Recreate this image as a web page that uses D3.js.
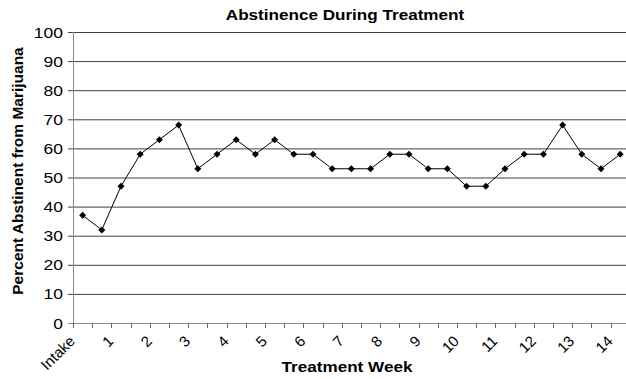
<!DOCTYPE html>
<html><head><meta charset="utf-8">
<script src="https://cdn.jsdelivr.net/npm/d3@7"></script>
<style>body{margin:0;background:#fff}svg{display:block;font-family:"Liberation Sans",Arial,sans-serif}</style>
</head><body>
<svg id="c" width="626" height="379"></svg>
<script>
const sessions = ["Intake","1a","1b","2a","2b","3a","3b","4a","4b","5a","5b","6a","6b","7a","7b","8a","8b","9a","9b","10a","10b","11a","11b","12a","12b","13a","13b","14a","14b"];
const abstinence = [37,32,47,58,63,68,53,58,63,58,63,58,58,53,53,53,58,58,53,53,47,47,53,58,58,68,58,53,58];
const weekLabels = ["Intake","1","2","3","4","5","6","7","8","9","10","11","12","13","14"];
const yTicks = [0,10,20,30,40,50,60,70,80,90,100];

(function(){
const svg = d3.select("#c");
const mLeft = 73, mTop = 32, mBottom = 323, step = 19.2;
const x = d3.scaleBand().domain(sessions).range([mLeft, mLeft + sessions.length*step]).padding(0);
const y = d3.scaleLinear().domain([0,100]).range([mBottom, mTop]);
const sx = 1.25;

// gridlines + y ticks
svg.append("g").selectAll("line").data(yTicks.filter(d=>d>0)).join("line")
  .attr("x1", mLeft-5).attr("x2", 626).attr("y1", d=>y(d)+0.5).attr("y2", d=>y(d)+0.5)
  .attr("stroke", "#404040").attr("stroke-width", 1);
svg.append("line").attr("x1", mLeft-5).attr("x2", mLeft).attr("y1", y(0)+0.5).attr("y2", y(0)+0.5).attr("stroke","#888");
svg.append("g").selectAll("text").data(yTicks).join("text")
  .attr("transform", d=>`translate(63,${y(d)+5.5}) scale(${sx},1)`)
  .attr("text-anchor","end").attr("font-size", 14).attr("fill","#000").text(d=>d);

// axes lines
svg.append("line").attr("x1", mLeft+0.5).attr("x2", mLeft+0.5).attr("y1", mTop).attr("y2", mBottom+5).attr("stroke","#8c8c8c");
svg.append("line").attr("x1", mLeft).attr("x2", 626).attr("y1", mBottom+0.5).attr("y2", mBottom+0.5).attr("stroke","#8c8c8c");
// x tick marks at band boundaries
const bounds = sessions.map(s=>x(s)).concat([x(sessions[sessions.length-1])+x.bandwidth()]);
svg.append("g").selectAll("line").data(bounds).join("line")
  .attr("x1", d=>Math.round(d)+0.5).attr("x2", d=>Math.round(d)+0.5).attr("y1", mBottom).attr("y2", mBottom+5)
  .attr("stroke","#666");
// x labels
svg.append("g").selectAll("text").data(weekLabels).join("text")
  .attr("transform", (d,i)=>`translate(${x(sessions[2*i])+3},${mBottom+19}) rotate(-45)`)
  .attr("text-anchor","end").attr("font-size", 15).attr("fill","#000").text(d=>d);

// line
const line = d3.line().x((d,i)=>x(sessions[i])+x.bandwidth()/2).y(d=>y(d));
svg.append("path").datum(abstinence).attr("d", line).attr("fill","none").attr("stroke","#000").attr("stroke-width",1);
svg.append("g").selectAll("path").data(abstinence).join("path")
  .attr("transform",(d,i)=>`translate(${x(sessions[i])+x.bandwidth()/2},${y(d)})`)
  .attr("d","M0,-3.5L3.5,0L0,3.5L-3.5,0Z").attr("fill","#000");

// titles
svg.append("text").attr("transform",`translate(345,19.5) scale(1.18,1)`).attr("text-anchor","middle")
  .attr("font-weight","bold").attr("font-size",14.5).text("Abstinence During Treatment");
svg.append("text").attr("transform",`translate(347,372) scale(1.18,1)`).attr("text-anchor","middle")
  .attr("font-weight","bold").attr("font-size",14.5).text("Treatment Week");
svg.append("text").attr("transform",`translate(23,171) rotate(-90)`).attr("text-anchor","middle")
  .attr("font-weight","bold").attr("font-size",15.5).text("Percent Abstinent from Marijuana");
})();
</script>
</body></html>
